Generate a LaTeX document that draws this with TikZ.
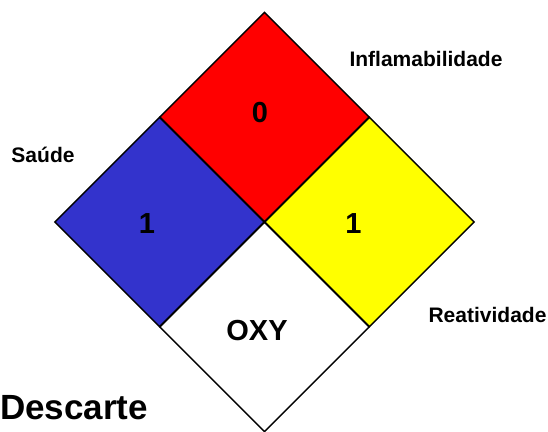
\documentclass[tikz,border=0pt]{standalone}
\usepackage{fontspec}
\setmainfont{Liberation Sans}
\usetikzlibrary{shapes.geometric}
\definecolor{saudeblue}{RGB}{51,51,204}
\definecolor{fogored}{RGB}{255,0,0}
\definecolor{reatyellow}{RGB}{255,255,0}

\begin{document}
\begin{tikzpicture}[x=1pt, y=-1pt,
		field/.style={diamond, draw=black, line width=1.4pt, inner sep=0pt, minimum width=210pt, minimum height=210pt, aspect=1},
		rating/.style={anchor=base, font=\fontsize{29}{29}\selectfont\bfseries},
		caption/.style={anchor=base, font=\fontsize{21}{21}\selectfont\bfseries}]
		\useasboundingbox (0,0) rectangle (548,431);
		% the four fields of the diamond
		\node[field, fill=fogored] (fogo) at (264.5,117) {};
		\node[field, fill=saudeblue] (saude) at (159.5,222) {};
		\node[field, fill=reatyellow] (reat) at (369.5,222) {};
		\node[field, fill=white] (esp) at (264.5,327) {};
		% ratings
		\node[rating] (n-fogo) at (260,122) {0};
		\node[rating] (n-saude) at (147,233) {1};
		\node[rating] (n-reat) at (353.5,233) {1};
		\node[rating] (n-esp) at (257,340) {OXY};
		% captions
		\node[caption] (l-fogo) at (426,66) {Inflamabilidade};
		\node[caption] (l-saude) at (43,162) {Saúde};
		\node[caption] (l-reat) at (487.5,322) {Reatividade};
		\node[anchor=base west, inner sep=0pt, font=\fontsize{35}{35}\selectfont\bfseries] (l-desc) at (0,419) {Descarte};
	\end{tikzpicture}
\end{document}
